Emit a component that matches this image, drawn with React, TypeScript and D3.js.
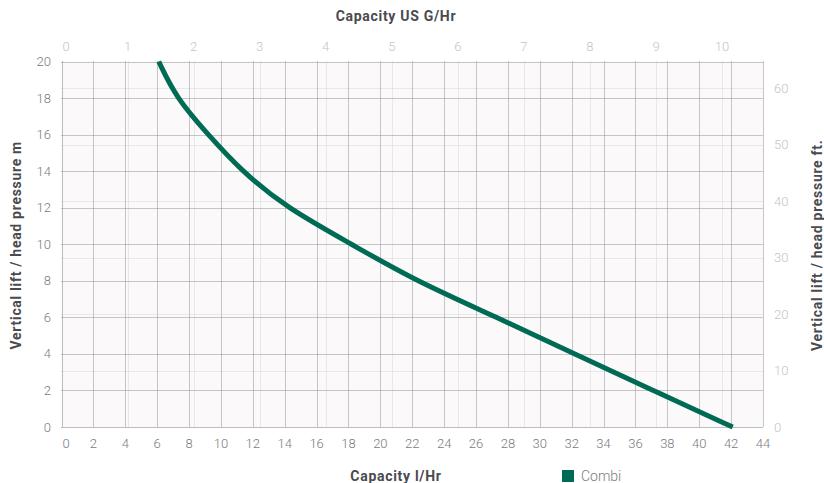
import * as d3 from "d3"

// data
const capacityLHr = [6.1, 7.2, 9.2, 11.3, 14.1, 18.2, 22.2, 27.3, 32.2, 37.1, 42.1]
const liftM = [20, 18, 16, 14, 12, 10, 8, 6, 4, 2, 0]
const bottomTicks = d3.range(0, 45, 2)
const topTicks = d3.range(0, 11, 1)
const leftTicks = d3.range(0, 21, 2)
const rightTicks = [0, 10, 20, 30, 40, 50, 60]
const seriesName = "Combi"

const W = 824
const H = 483
const left = 61.5
const right = 763
const top = 61.5
const bottom = 427
const green = "#006b54"
const font = "Roboto, 'DejaVu Sans', sans-serif"

// snap a coordinate to the pixel grid so the dotted lines stay crisp
const px = (v: number) => Math.round(v) + 0.5

const App = () => {
    const x = d3.scaleLinear().domain([0, 44]).range([left, right])
    const xTop = d3.scaleLinear().domain([0, 10.62]).range([left, right])
    const y = d3.scaleLinear().domain([0, 20]).range([bottom, top])
    const yRight = d3.scaleLinear().domain([0, 64.75]).range([bottom, top])

    const line = d3.line<number>()
        .x((d, i) => x(capacityLHr[i]))
        .y(d => y(d))
        .curve(d3.curveBasis)

    return (
        <svg width={W} height={H} style={{ position: "absolute", left: 0, top: 0 }}>
            <rect x={left} y={top} width={right - left} height={bottom - top} fill="#fbf9fa" />

            {/* light secondary grid (US gal / ft) */}
            {topTicks.map(t => (
                <line key={"tg" + t} x1={px(xTop(t))} x2={px(xTop(t))} y1={top} y2={bottom}
                    stroke="#d4d4d8" strokeDasharray="1,1" />
            ))}
            {rightTicks.map(t => (
                <line key={"rg" + t} x1={left} x2={right} y1={px(yRight(t))} y2={px(yRight(t))}
                    stroke="#d4d4d8" strokeDasharray="1,1" />
            ))}

            {/* main grid */}
            {bottomTicks.map(t => (
                <line key={"bg" + t} x1={px(x(t))} x2={px(x(t))} y1={top} y2={bottom}
                    stroke="#8e8e96" strokeDasharray="1,1" />
            ))}
            {leftTicks.map(t => (
                <line key={"lg" + t} x1={left} x2={right} y1={px(y(t))} y2={px(y(t))}
                    stroke="#8e8e96" strokeDasharray="1,1" />
            ))}

            <path d={line(liftM) || ""} fill="none" stroke={green} strokeWidth={5} />

            {/* tick labels */}
            <g fontFamily={font} fontWeight={300} fontSize={13}>
                {bottomTicks.map(t => (
                    <text key={"bt" + t} x={x(t) + (t === 0 ? 4.5 : 0)} y={448} textAnchor="middle" fill="#7a7a80">{t}</text>
                ))}
                {topTicks.map(t => (
                    <text key={"tt" + t} x={xTop(t) + (t === 0 ? 4.5 : 0)} y={51} textAnchor="middle" fill="#c4c4c8">{t}</text>
                ))}
                {leftTicks.map(t => (
                    <text key={"lt" + t} x={51} y={y(t) + 4.5} textAnchor="end" fill="#7a7a80">{t}</text>
                ))}
                {rightTicks.map(t => (
                    <text key={"rt" + t} x={774} y={yRight(t) + 4.5} textAnchor="start" fill="#c4c4c8">{t}</text>
                ))}
            </g>

            {/* axis titles */}
            <g fontFamily={font} fontWeight={700} fontSize={14} letterSpacing={0.7} fill="#4a4a4f" textAnchor="middle">
                <text x={396} y={21}>Capacity US G/Hr</text>
                <text x={396} y={481}>Capacity l/Hr</text>
                <text transform={`translate(21,${(top + bottom) / 2 + 1}) rotate(-90)`}>Vertical lift / head pressure m</text>
                <text transform={`translate(822,${(top + bottom) / 2 + 1}) rotate(-90)`}>Vertical lift / head pressure ft.</text>
            </g>

            {/* legend */}
            <rect x={562} y={470} width={12} height={12} fill={green} />
            <text x={581} y={481} fontFamily={font} fontWeight={300} fontSize={14} fill="#7a7a80">{seriesName}</text>
        </svg>
    )
}

export default App
